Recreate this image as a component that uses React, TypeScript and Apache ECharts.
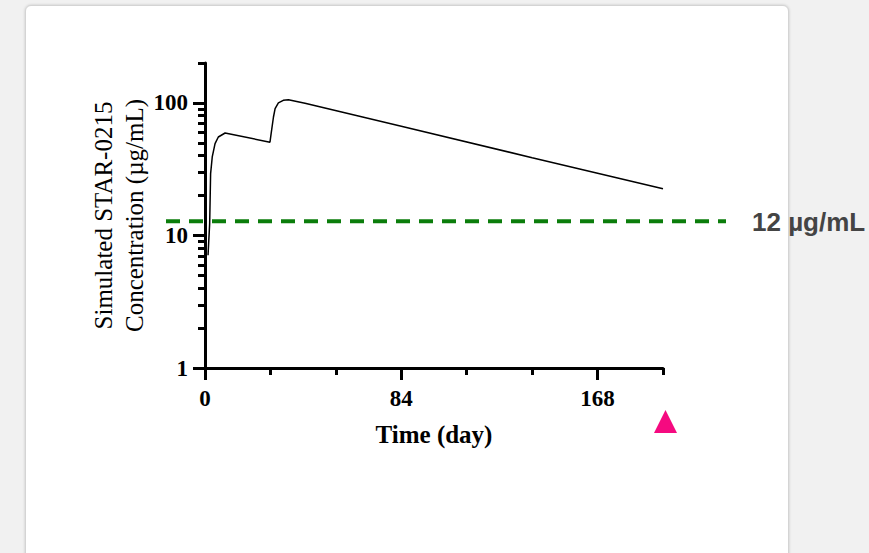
import React, { useEffect, useRef } from "react";
import * as echarts from "echarts";

// ---- data ----
const timeDays = [1.3, 1.6, 2.0, 2.4, 3.1, 4.3, 5.7, 8.6, 27.8, 28.3, 29.3, 30.0, 31.4, 33.5, 35.7, 42.8, 84, 140, 196];
const concentration = [7.1, 9.0, 12.3, 29.3, 39.1, 49.3, 55.3, 59.3, 50.5, 58.7, 78.3, 90.6, 99.9, 104.6, 105.5, 99.3, 66.7, 38.6, 22.5];

const xMajorTicks = [0, 84, 168];
const xMinorTicks = [28, 56, 112, 140, 196];
const yMajorTicks = [1, 10, 100];
const yMinorTicks = [2, 3, 4, 5, 6, 7, 8, 9, 20, 30, 40, 50, 60, 70, 80, 90, 200];

const xMin = 0;
const xMax = 196;
const yMin = 1;
const yMax = 200;

const thresholdValue = 12.8; // drawn position of the dashed line
const thresholdLabel = "12 µg/mL";

const yAxisTitle = "Simulated STAR-0215\nConcentration (µg/mL)";
const xAxisTitle = "Time (day)";

const SERIF = "'Liberation Serif', 'Times New Roman', Times, serif";
const SANS = "'Liberation Sans', Arial, Helvetica, sans-serif";

export default function App() {
  const ref = useRef<HTMLDivElement>(null);

  useEffect(() => {
    if (!ref.current) return;
    const chart = echarts.init(ref.current, undefined, { renderer: "svg" });

    const lineSt = { color: "#000", width: 3 };
    const labelSt = {
      fontFamily: SERIF,
      fontWeight: "bold" as const,
      fontSize: 23,
      color: "#000",
    };

    chart.setOption({
      animation: false,
      backgroundColor: "transparent",
      grid: {
        left: 205,
        right: 206,
        top: 63,
        bottom: 185,
        containLabel: false,
        outerBoundsMode: "none",
      },
      xAxis: [
        {
          type: "value",
          position: "bottom",
          min: xMin,
          max: xMax,
          axisLine: { show: true, onZero: false, lineStyle: lineSt },
          axisTick: { show: true, length: 12, lineStyle: lineSt, customValues: xMajorTicks },
          axisLabel: { ...labelSt, margin: 19, customValues: xMajorTicks },
          splitLine: { show: false },
          name: xAxisTitle,
          nameLocation: "middle",
          nameGap: 54,
          nameMoveOverlap: false,
          nameTextStyle: { fontFamily: SERIF, fontWeight: "bold", fontSize: 25, color: "#000" },
        },
        {
          type: "value",
          position: "bottom",
          min: xMin,
          max: xMax,
          axisLine: { show: false, onZero: false },
          axisTick: { show: true, length: 7, lineStyle: lineSt, customValues: xMinorTicks },
          axisLabel: { show: false },
          splitLine: { show: false },
        },
      ],
      yAxis: [
        {
          type: "log",
          logBase: 10,
          position: "left",
          min: yMin,
          max: yMax,
          axisLine: { show: true, onZero: false, lineStyle: lineSt },
          axisTick: { show: true, length: 12, lineStyle: lineSt, customValues: yMajorTicks },
          axisLabel: { ...labelSt, margin: 17, customValues: yMajorTicks },
          splitLine: { show: false },
          minorTick: { show: false },
          name: yAxisTitle,
          nameLocation: "middle",
          nameGap: 55,
          nameMoveOverlap: false,
          nameTextStyle: {
            fontFamily: SERIF,
            fontWeight: "normal",
            fontSize: 25,
            lineHeight: 31,
            color: "#000",
            align: "center",
          },
        },
        {
          type: "log",
          logBase: 10,
          position: "left",
          min: yMin,
          max: yMax,
          axisLine: { show: false, onZero: false },
          axisTick: { show: true, length: 7, lineStyle: lineSt, customValues: yMinorTicks },
          axisLabel: { show: false },
          splitLine: { show: false },
        },
      ],
      series: [
        {
          type: "line",
          xAxisIndex: 0,
          yAxisIndex: 0,
          data: timeDays.map((d, i) => [d, concentration[i]]),
          showSymbol: false,
          symbol: "none",
          lineStyle: { color: "#000", width: 1.5 },
          silent: true,
        },
      ],
    });

    const yPix = chart.convertToPixel({ yAxisIndex: 0 }, thresholdValue) as number;
    const gridLeft = 205;
    const gridRight = 869 - 206;

    chart.setOption({
      graphic: [
        {
          type: "line",
          silent: true,
          shape: { x1: gridLeft - 39, y1: yPix, x2: gridRight + 63, y2: yPix },
          style: { stroke: "#0b7d0b", lineWidth: 4, lineDash: [14, 9] },
          z: 10,
        },
        {
          type: "text",
          silent: true,
          x: 752,
          y: yPix + 1,
          style: {
            text: thresholdLabel,
            font: `bold 26px ${SANS}`,
            fill: "#444",
            textVerticalAlign: "middle",
            verticalAlign: "middle",
          },
        },
        {
          type: "polygon",
          silent: true,
          shape: {
            points: [
              [gridRight - 9, 433],
              [gridRight + 14, 433],
              [gridRight + 2.5, 410],
            ],
          },
          style: { fill: "#f50a80" },
        },
      ],
    });

    return () => chart.dispose();
  }, []);

  return (
    <div
      style={{
        position: "fixed",
        left: 0,
        top: 0,
        width: 869,
        height: 553,
        background: "#f1f1f1",
        overflow: "hidden",
      }}
    >
      <div
        style={{
          position: "absolute",
          left: 25,
          top: 5,
          width: 762,
          height: 600,
          background: "#fff",
          border: "1px solid #d4d4d4",
          borderRadius: 6,
          boxShadow: "0 0 3px rgba(0,0,0,0.18)",
        }}
      />
      <div
        ref={ref}
        style={{ position: "absolute", left: 0, top: 0, width: 869, height: 553 }}
      />
    </div>
  );
}
